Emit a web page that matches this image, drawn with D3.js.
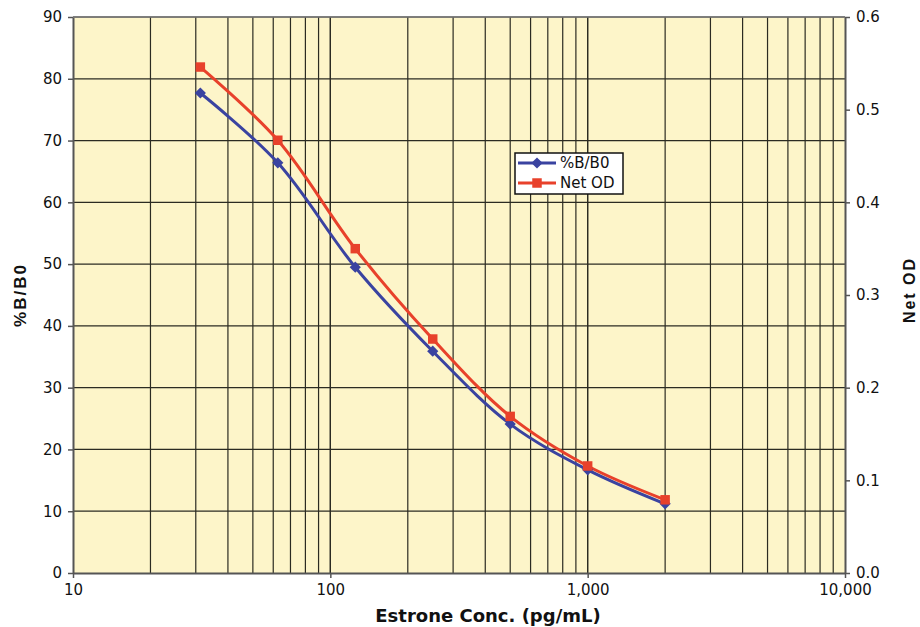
<!DOCTYPE html>
<html>
<head>
<meta charset="utf-8">
<script src="https://cdn.jsdelivr.net/npm/d3@7"></script>
<style>
  body { margin: 0; background: #fff; }
  text { font-family: "DejaVu Sans", sans-serif; fill: #111; }
</style>
</head>
<body>
<script>
// standards (pg/mL)
var conc = [31.25, 62.5, 125, 250, 500, 1000, 2000];
var bb0 = [77.7, 66.4, 49.5, 35.9, 24.1, 16.7, 11.2];
var netOD = [0.546, 0.467, 0.350, 0.2525, 0.169, 0.1155, 0.079];
var leftTicks = [0, 10, 20, 30, 40, 50, 60, 70, 80, 90];
var rightTicks = [0, 0.1, 0.2, 0.3, 0.4, 0.5, 0.6];
var xTicks = [10, 100, 1000, 10000];

var screen = {width: 920, height: 627};
var margin = {top: 17, right: 75, bottom: 54, left: 73};
var w = screen.width - margin.left - margin.right;
var h = screen.height - margin.top - margin.bottom;

var svg = d3.select("body")
            .append("svg")
            .attr("width", screen.width)
            .attr("height", screen.height);

var g = svg.append("g")
           .attr("transform", "translate(" + margin.left + "," + margin.top + ")");

var x = d3.scaleLog().domain([10, 10000]).range([0, w]);
var yL = d3.scaleLinear().domain([0, 90]).range([h, 0]);
var yR = d3.scaleLinear().domain([0, 0.6]).range([h, 0]);

// background
g.append("rect")
 .attr("width", w)
 .attr("height", h)
 .attr("fill", "#fdf5c9");

// vertical grid on every log tick
var minor = [];
[10, 100, 1000].forEach(function(dec) {
  for (var k = 1; k <= 10; k++) minor.push(dec * k);
});
g.append("g")
 .selectAll("line")
 .data(minor.filter(function(v) { return v > 10 && v < 10000; }))
 .enter()
 .append("line")
 .attr("x1", function(d) { return x(d); })
 .attr("x2", function(d) { return x(d); })
 .attr("y1", 0)
 .attr("y2", h)
 .attr("stroke", "#2b2b22")
 .attr("stroke-width", 1.2);

// horizontal grid
g.append("g")
 .selectAll("line")
 .data(leftTicks.filter(function(v) { return v > 0; }))
 .enter()
 .append("line")
 .attr("x1", 0)
 .attr("x2", w)
 .attr("y1", function(d) { return yL(d); })
 .attr("y2", function(d) { return yL(d); })
 .attr("stroke", "#2b2b22")
 .attr("stroke-width", 1.2);

// axes
var axisStyle = function(sel) {
  sel.select(".domain").attr("stroke", "#555").attr("stroke-width", 2);
  sel.selectAll(".tick line").attr("stroke", "#555").attr("stroke-width", 1.5);
  sel.selectAll(".tick text")
     .style("font-family", "'DejaVu Sans', sans-serif")
     .style("font-size", "15px")
     .attr("fill", "#111");
};

g.append("g")
 .call(d3.axisLeft(yL).tickValues(leftTicks).tickSize(5).tickSizeOuter(0).tickPadding(6))
 .call(axisStyle);

g.append("g")
 .attr("transform", "translate(" + w + ",0)")
 .call(d3.axisRight(yR).tickValues(rightTicks).tickSize(5).tickSizeOuter(0).tickPadding(6)
         .tickFormat(d3.format(".1f")))
 .call(axisStyle);

g.append("g")
 .attr("transform", "translate(0," + h + ")")
 .call(d3.axisBottom(x).tickValues(xTicks).tickSize(5).tickSizeOuter(0).tickPadding(6)
         .tickFormat(d3.format(",")))
 .call(axisStyle);

// top border
g.append("line")
 .attr("x1", 0).attr("x2", w)
 .attr("y1", 0).attr("y2", 0)
 .attr("stroke", "#777")
 .attr("stroke-width", 1.5);

// series
var blue = "#3a43a0";
var red = "#e8412b";

var lineL = d3.line()
              .x(function(d, i) { return x(conc[i]); })
              .y(function(d) { return yL(d); })
              .curve(d3.curveCatmullRom.alpha(0.5));
var lineR = d3.line()
              .x(function(d, i) { return x(conc[i]); })
              .y(function(d) { return yR(d); })
              .curve(d3.curveCatmullRom.alpha(0.5));

g.append("path")
 .attr("d", lineL(bb0))
 .attr("fill", "none")
 .attr("stroke", blue)
 .attr("stroke-width", 3);

g.append("path")
 .attr("d", lineR(netOD))
 .attr("fill", "none")
 .attr("stroke", red)
 .attr("stroke-width", 3);

var diamond = d3.symbol().type(d3.symbolDiamond2).size(80);
var square = d3.symbol().type(d3.symbolSquare).size(90);

g.append("g")
 .selectAll("path")
 .data(bb0)
 .enter()
 .append("path")
 .attr("d", diamond)
 .attr("transform", function(d, i) { return "translate(" + x(conc[i]) + "," + yL(d) + ")"; })
 .attr("fill", blue);

g.append("g")
 .selectAll("path")
 .data(netOD)
 .enter()
 .append("path")
 .attr("d", square)
 .attr("transform", function(d, i) { return "translate(" + x(conc[i]) + "," + yR(d) + ")"; })
 .attr("fill", red);

// legend
var legend = svg.append("g")
                .attr("transform", "translate(515,153)");
legend.append("rect")
      .attr("width", 108)
      .attr("height", 41)
      .attr("fill", "#fff")
      .attr("stroke", "#111")
      .attr("stroke-width", 1.5);

var items = [{name: "%B/B0", color: blue, sym: diamond},
             {name: "Net OD", color: red, sym: square}];
items.forEach(function(it, i) {
  var yy = 10 + i * 20;
  legend.append("line")
        .attr("x1", 3).attr("x2", 41)
        .attr("y1", yy).attr("y2", yy)
        .attr("stroke", it.color)
        .attr("stroke-width", 3);
  legend.append("path")
        .attr("d", it.sym)
        .attr("transform", "translate(22," + yy + ")")
        .attr("fill", it.color);
  legend.append("text")
        .attr("x", 45)
        .attr("y", yy + 5)
        .style("font-size", "15px")
        .text(it.name);
});

// axis titles
svg.append("text")
   .attr("transform", "translate(26,295) rotate(-90)")
   .attr("text-anchor", "middle")
   .style("font-family", "'Liberation Sans', Arial, sans-serif")
   .style("font-size", "17px")
   .style("font-weight", "bold")
   .style("letter-spacing", "2px")
   .text("%B/B0");

svg.append("text")
   .attr("transform", "translate(915,290) rotate(-90)")
   .attr("text-anchor", "middle")
   .style("font-family", "'Liberation Sans', Arial, sans-serif")
   .style("font-size", "16px")
   .style("font-weight", "bold")
   .style("letter-spacing", "2px")
   .text("Net OD");

svg.append("text")
   .attr("x", 488)
   .attr("y", 622)
   .attr("text-anchor", "middle")
   .style("font-size", "18px")
   .style("font-weight", "bold")
   .text("Estrone Conc. (pg/mL)");
</script>
</body>
</html>
